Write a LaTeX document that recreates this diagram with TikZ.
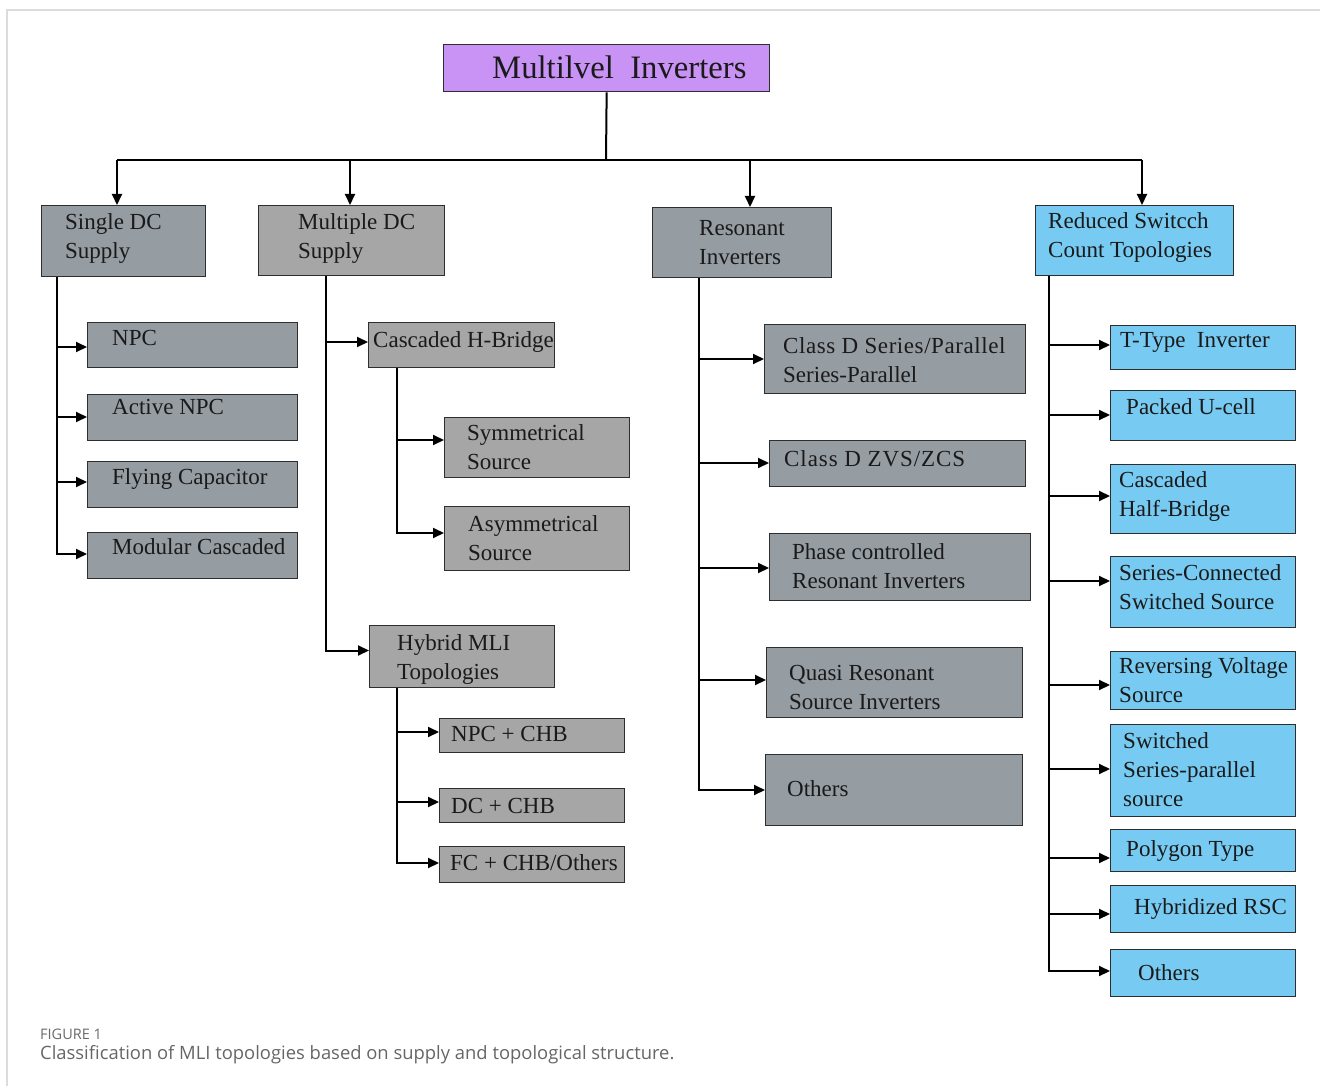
\documentclass[tikz,border=0pt]{standalone}
\usepackage{fontspec}
\setmainfont{Liberation Serif}
\newfontfamily\capfont{Open Sans}
\usetikzlibrary{arrows.meta}
\definecolor{purp}{HTML}{C893F5}
\definecolor{bgray}{HTML}{959CA2}
\definecolor{ngray}{HTML}{A6A6A6}
\definecolor{sky}{HTML}{77CBF2}
\definecolor{edgec}{HTML}{2E2E2E}
\definecolor{framec}{HTML}{DCDCDC}
\definecolor{capa}{HTML}{6A6A6A}
\definecolor{capb}{HTML}{666666}
\definecolor{txt}{HTML}{1A1A1A}
\tikzset{
 boxst/.style={draw=edgec, line width=1.3pt, inner sep=0pt, anchor=north west},
 lbl/.style={font=\fontsize{23}{29}\selectfont, align=left, inner sep=0pt, anchor=north west, text=txt},
 ln/.style={line width=2pt, draw=black},
 arr/.style={ln, -{Triangle[length=11pt,width=10pt]}},
}
\newcommand\bx[9]{%
 \node[boxst,fill=#6,minimum width={(#4-#2)*1pt},minimum height={(#5-#3)*1pt}] (#1) at (#2,#3) {};
 \node[lbl] (#1-t) at (#7,{#8-20.3}) {\strut #9};
}
\newcommand\br[3]{\draw[arr] (#1 |- 0,#3) -- (#2.west |- 0,#3);}
\begin{document}
\begin{tikzpicture}[x=1pt,y=-1pt]
\useasboundingbox (0,0) rectangle (1320,1086);
\draw[framec, line width=1.5pt] (7,1086) -- (7,10) -- (1320,10);

% title
\node[boxst, fill=purp, minimum width=326pt, minimum height=47pt] (title) at (443,44) {};
\node[font=\fontsize{32.7}{40}\selectfont, inner sep=0pt, anchor=base west, text=txt] (title-t) at (492,79) {Multilvel\ \ Inverters};

% level 1
\bx{sdc}{41}{205}{205}{276}{bgray}{65}{229}{Single DC\\Supply}
\bx{mdc}{258}{205}{444}{275}{ngray}{298}{229}{Multiple DC\\Supply}
\bx{res}{652}{207}{831}{277}{bgray}{699}{235.5}{Resonant\\Inverters}
\bx{rsc}{1035}{205}{1233}{275}{sky}{1048}{228.5}{Reduced Switcch\\Count Topologies}

% single DC children
\bx{npc}{87}{322}{297}{367}{bgray}{112}{345.5}{NPC}
\bx{anpc}{87}{394}{297}{440}{bgray}{112}{414.5}{Active NPC}
\bx{fcap}{87}{461}{297}{507}{bgray}{112}{484.5}{Flying Capacitor}
\bx{mc}{87}{532}{297}{578}{bgray}{112}{554.5}{Modular Cascaded}

% multiple DC children
\bx{chb}{368}{322}{554}{367}{ngray}{373}{347.5}{Cascaded H-Bridge}
\bx{sym}{444}{417}{629}{477}{ngray}{467}{440.5}{Symmetrical\\Source}
\bx{asym}{444}{506}{629}{570}{ngray}{468}{531.5}{Asymmetrical\\Source}
\bx{hyb}{369}{625}{554}{687}{ngray}{397}{650.5}{Hybrid MLI\\Topologies}
\bx{npcchb}{439}{718}{624}{752}{ngray}{451}{741.5}{NPC + CHB}
\bx{dcchb}{439}{788}{624}{822}{ngray}{451}{813}{DC + CHB}
\bx{fcchb}{439}{846}{624}{882}{ngray}{450}{870.5}{FC + CHB/Others}

% resonant children
\bx{cdsp}{764}{324}{1025}{393}{bgray}{783}{353}{{\addfontfeature{LetterSpace=2.5}Class D Series/Parallel}\\Series-Parallel}
\bx{zvs}{769}{440}{1025}{486}{bgray}{784}{466.5}{{\addfontfeature{LetterSpace=4}Class D ZVS/ZCS}}
\bx{pcr}{769}{533}{1030}{600}{bgray}{792}{559.5}{Phase controlled\\Resonant Inverters}
\bx{qrs}{766}{647}{1022}{717}{bgray}{789}{680.5}{Quasi Resonant\\Source Inverters}
\bx{roth}{765}{754}{1022}{825}{bgray}{787}{796.5}{Others}

% reduced switch count children
\bx{tt}{1110}{325}{1295}{369}{sky}{1120}{347.5}{T-Type\ \ Inverter}
\bx{puc}{1110}{390}{1295}{440}{sky}{1126}{414.5}{Packed U-cell}
\bx{chbr}{1110}{464}{1295}{533}{sky}{1119}{487.5}{Cascaded\\Half-Bridge}
\bx{scss}{1110}{556}{1295}{627}{sky}{1119}{580.5}{Series-Connected\\Switched Source}
\bx{rvs}{1110}{651}{1295}{709}{sky}{1119}{673.5}{Reversing Voltage\\Source}
\bx{ssps}{1110}{724}{1295}{816}{sky}{1123}{748.5}{Switched\\Series-parallel\\source}
\bx{poly}{1110}{829}{1295}{871}{sky}{1126}{856.5}{Polygon Type}
\bx{hrsc}{1110}{885}{1295}{932}{sky}{1134}{914.5}{Hybridized RSC}
\bx{roth2}{1110}{949}{1295}{996}{sky}{1138}{980.5}{Others}

% top connectors
\coordinate (hub) at (606,160);
\coordinate (hL) at (117,160);
\coordinate (hM) at (350,160);
\coordinate (hR) at (750,160);
\coordinate (hS) at (1142,160);
\draw[ln] (title.south) -- (hub);
\draw[ln] (hL) -- (hS);
\draw[arr] (hL) -- (hL |- sdc.north);
\draw[arr] (hM) -- (hM |- mdc.north);
\draw[arr] (hR) -- (hR |- res.north);
\draw[arr] (hS) -- (hS |- rsc.north);

% vertical trunks
\coordinate (vA) at (57,0);
\coordinate (vB) at (326,0);
\coordinate (vC) at (397,0);
\coordinate (vE) at (699,0);
\coordinate (vF) at (1049,0);

\br{vA}{npc}{347}
\br{vA}{anpc}{417}
\br{vA}{fcap}{482}
\draw[arr] (vA |- sdc.south) |- (mc.west |- 0,554);

\br{vB}{chb}{342}
\draw[arr] (vB |- mdc.south) |- (hyb.west |- 0,650.5);

\br{vC}{sym}{440}
\draw[arr] (vC |- chb.south) |- (asym.west |- 0,533);

\br{vC}{npcchb}{732}
\br{vC}{dcchb}{802}
\draw[arr] (vC |- hyb.south) |- (fcchb.west |- 0,863);

\br{vE}{cdsp}{359}
\br{vE}{zvs}{463}
\br{vE}{pcr}{568}
\br{vE}{qrs}{680}
\draw[arr] (vE |- res.south) |- (roth.west |- 0,790);

\br{vF}{tt}{345}
\br{vF}{puc}{415}
\br{vF}{chbr}{496}
\br{vF}{scss}{581}
\br{vF}{rvs}{685}
\br{vF}{ssps}{769}
\br{vF}{poly}{858}
\br{vF}{hrsc}{914}
\draw[arr] (vF |- rsc.south) |- (roth2.west |- 0,971);

% caption
\node[font=\capfont\fontsize{14.5}{17}\selectfont, text=capa, anchor=base west, inner sep=0pt] (fig) at (40,1039) {FIGURE 1};
\node[font=\capfont\fontsize{18.4}{22}\selectfont, text=capb, anchor=base west, inner sep=0pt] (cap) at (40,1059) {Classification of MLI topologies based on supply and topological structure.};
\end{tikzpicture}
\end{document}
